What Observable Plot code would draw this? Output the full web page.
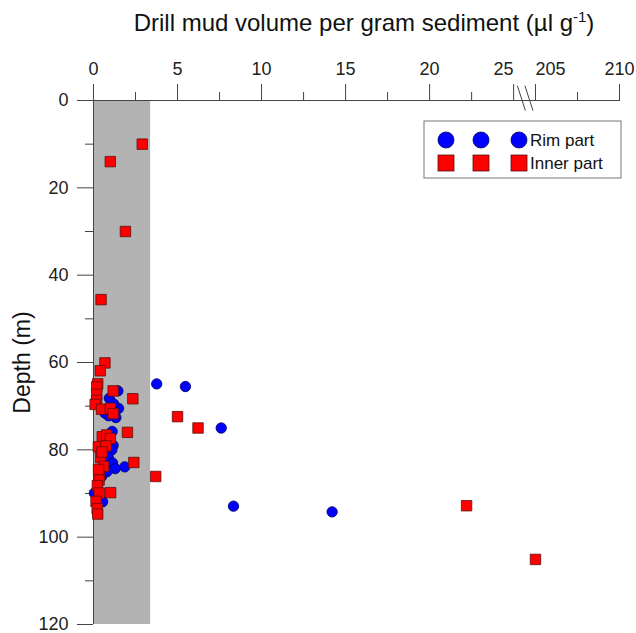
<!DOCTYPE html>
<html><head><meta charset="utf-8">
<script src="https://cdn.jsdelivr.net/npm/d3@7"></script>
<script src="https://cdn.jsdelivr.net/npm/@observablehq/plot@0.6"></script>
<style>body{margin:0;background:#fff;font-family:"Liberation Sans",Arial,sans-serif}</style>
</head><body><div id="chart"></div>
<script>
// Rim part (blue circles): volume (µl/g), depth (m)
const rimVolume = [3.76,5.47,7.6,1.45,0.94,1.49,0.68,1.33,1.11,1.17,1.09,0.88,1.13,1.29,1.86,0.48,0.05,0.54,8.33,14.2,1.2,0.9,0.7,0.8];
const rimDepth  = [64.9,65.5,75.0,66.5,68.2,70.5,71.6,72.6,75.8,79.0,80.0,81.8,83.0,84.3,83.9,86.1,89.9,91.9,92.9,94.2,69.5,72.2,77.5,85.0];
// Inner part (red squares)
const innerVolume = [2.9,1.0,1.9,0.45,0.68,0.40,0.25,0.19,1.17,0.19,0.19,2.34,0.1,0.48,1.0,1.17,5.0,6.22,2.02,0.52,0.78,1.0,0.29,0.74,0.42,2.4,0.6,3.7,0.35,0.33,0.23,0.34,1.02,0.15,0.22,0.25,22.2,205.0,0.5,0.3];
const innerDepth  = [10,14,30,45.6,60.1,61.9,64.9,65.6,66.5,67.3,68.7,68.3,69.6,70.7,70.5,71.7,72.4,75.0,76.0,77.0,76.6,77.4,79.3,79.1,81.8,82.9,83.8,86.1,85.9,86.9,88.2,89.9,89.8,91.8,93.5,94.7,92.8,105.1,80.5,84.5];
// Shaded band (volume range)
const bandLow = 0, bandHigh = 3.4;
// Axis ticks
const xTickMid = [0,5,10,15,20,210];
const xTickBeforeBreak = [25];
const xTickAfterBreak = [205];
const xMinorTicks = [2.5,7.5,12.5,17.5,22.5,207.5];
const yTickValues = [0,20,40,60,80,100,120];
const yMinorTicks = [10,30,50,70,90,110];
const xMax = 210, yMax = 120;
// Axis break: lower segment ends at BREAK_LOW, upper segment starts at BREAK_HIGH
const BREAK_LOW = 25.6, BREAK_HIGH = 204.3;
const OFFSET = BREAK_HIGH - BREAK_LOW;
const xt = v => v >= BREAK_HIGH ? v - OFFSET : v;
const xBack = d => d > BREAK_LOW + 0.01 ? Math.round(d + OFFSET) : d;

const rim = rimVolume.map((v,i) => ({v, d: rimDepth[i]}));
const inner = innerVolume.map((v,i) => ({v, d: innerDepth[i]}));
const band = [{x1: bandLow, x2: bandHigh, y1: 0, y2: yMax}];
const breakMarks = [0.1, 0.55].map(o => ({x1: BREAK_LOW - 0.48 + o, x2: BREAK_LOW + o, y1: -3.4, y2: 2.3}));

const axisColor = "#444";
const font = 18;
const common = {stroke: axisColor, fill: "#222", fontSize: font, label: null};
const plot = Plot.plot({
  width: 636, height: 633,
  marginLeft: 93, marginRight: 17, marginTop: 100, marginBottom: 9,
  style: {fontFamily: '"Liberation Sans", Arial, sans-serif', background: "#fff"},
  x: {domain: [0, xt(xMax)], axis: null},
  y: {domain: [0, yMax], reverse: true, axis: null},
  marks: [
    Plot.rect(band, {x1: "x1", x2: "x2", y1: "y1", y2: "y2", fill: "#b3b3b3"}),
    Plot.axisX({...common, anchor: "top", ticks: xTickMid.map(xt), tickFormat: xBack, tickSize: 17, tickPadding: 9}),
    Plot.axisX({...common, anchor: "top", ticks: xTickBeforeBreak.map(xt), tickFormat: xBack, tickSize: 17, tickPadding: 9, textAnchor: "end"}),
    Plot.axisX({...common, anchor: "top", ticks: xTickAfterBreak.map(xt), tickFormat: xBack, tickSize: 17, tickPadding: 9, textAnchor: "start"}),
    Plot.axisX({...common, anchor: "top", ticks: xMinorTicks.map(xt), tickFormat: () => "", tickSize: 9}),
    Plot.axisY({...common, anchor: "left", ticks: yTickValues, tickSize: 16, tickPadding: 9}),
    Plot.axisY({...common, anchor: "left", ticks: yMinorTicks, tickFormat: () => "", tickSize: 8}),
    Plot.ruleY([0], {stroke: axisColor}),
    Plot.ruleX([0], {stroke: axisColor}),
    Plot.link(breakMarks, {x1: "x1", x2: "x2", y1: "y1", y2: "y2", stroke: axisColor, strokeWidth: 1}),
    Plot.dot(rim, {x: d => xt(d.v), y: "d", r: 5.2, fill: "#0000ff", stroke: "#000060", strokeWidth: 0.8}),
    Plot.dot(inner, {x: d => xt(d.v), y: "d", symbol: "square", r: 5.9, fill: "#ff0000", stroke: "#5a1010", strokeWidth: 0.8}),
    Plot.text(["Depth (m)"], {frameAnchor: "left", textAnchor: "middle", rotate: -90, dx: -71, fontSize: 23, fill: "#111"})
  ]
});
document.getElementById("chart").appendChild(plot);

const svg = d3.select(plot);
// Title with superscript
const title = svg.append("text").attr("x", 364).attr("y", 31).attr("text-anchor", "middle")
  .attr("font-size", 24).attr("fill", "#111");
title.append("tspan").text("Drill mud volume per gram sediment (µl g");
title.append("tspan").attr("font-size", 15).attr("dy", -9).text("-1");
title.append("tspan").attr("dy", 9).text(")");

// Legend
const lg = svg.append("g");
lg.append("rect").attr("x", 424).attr("y", 121).attr("width", 197).attr("height", 57)
  .attr("fill", "#fff").attr("stroke", "#777");
const lx = [446, 481, 519];
lx.forEach(x => {
  lg.append("circle").attr("cx", x).attr("cy", 140).attr("r", 8).attr("fill", "#0000ff").attr("stroke", "#000060").attr("stroke-width", 0.8);
  lg.append("rect").attr("x", x - 8).attr("y", 155).attr("width", 16).attr("height", 16).attr("fill", "#ff0000").attr("stroke", "#5a1010").attr("stroke-width", 0.8);
});
lg.append("text").attr("x", 530).attr("y", 140).attr("dy", "0.35em").attr("text-anchor", "start").attr("font-size", 17).attr("fill", "#111").text("Rim part");
lg.append("text").attr("x", 530).attr("y", 163).attr("dy", "0.35em").attr("text-anchor", "start").attr("font-size", 17).attr("fill", "#111").text("Inner part");
</script>
</body></html>
